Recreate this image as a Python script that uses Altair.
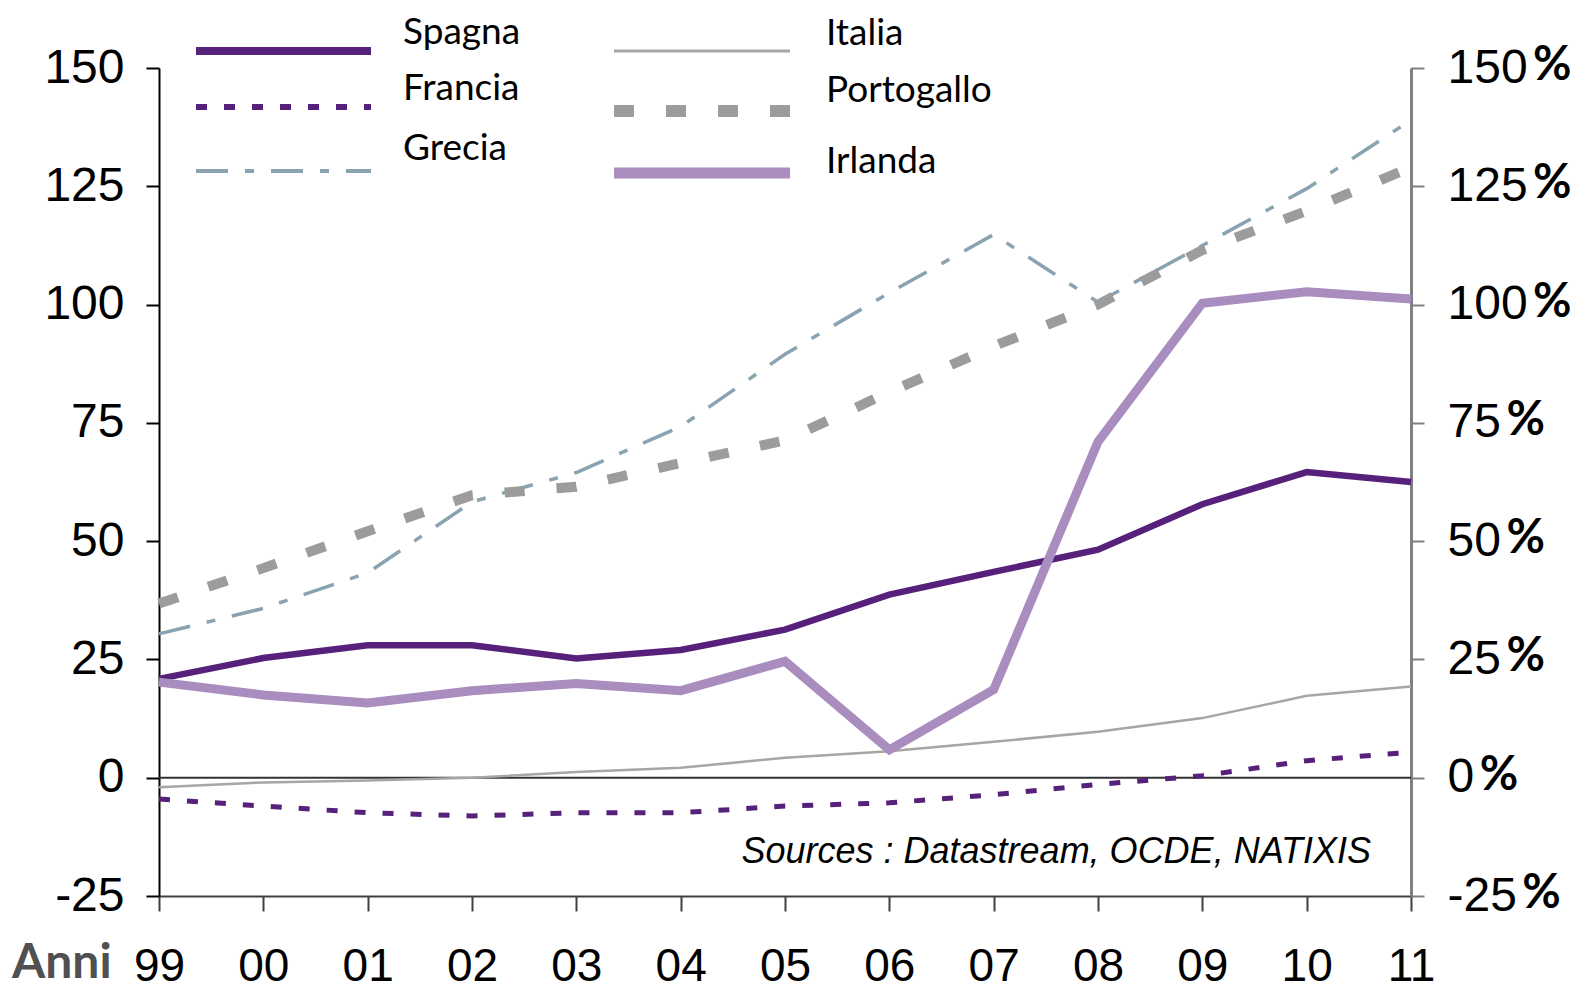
import altair as alt
import pandas as pd

# ---------------- data ----------------
anni = ["99", "00", "01", "02", "03", "04", "05", "06", "07", "08", "09", "10", "11"]
serie = ["Spagna", "Francia", "Grecia", "Italia", "Portogallo", "Irlanda"]

spagna = [20.9, 25.3, 28.0, 28.0, 25.2, 27.0, 31.3, 38.7, 43.5, 48.2, 57.8, 64.6, 62.5]
francia = [-4.5, -6.0, -7.4, -8.1, -7.4, -7.4, -6.0, -5.3, -3.6, -1.4, 0.4, 3.6, 5.4]
grecia = [30.4, 35.8, 43.3, 58.3, 64.5, 74.2, 89.5, 102.5, 114.8, 100.5, 112.5, 124.5, 139.0]
italia = [-2.0, -1.0, -0.6, 0.0, 1.2, 2.1, 4.2, 5.6, 7.6, 9.7, 12.6, 17.3, 19.3]
portogallo = [36.8, 44.3, 52.1, 59.7, 61.5, 66.5, 71.3, 81.5, 91.2, 100.0, 111.5, 119.8, 129.0]
irlanda = [20.2, 17.5, 15.8, 18.4, 19.9, 18.4, 24.6, 5.9, 18.6, 71.0, 100.3, 102.7, 101.2]

valori = {
    "Spagna": spagna,
    "Francia": francia,
    "Grecia": grecia,
    "Italia": italia,
    "Portogallo": portogallo,
    "Irlanda": irlanda,
}
tick_values = [-25, 0, 25, 50, 75, 100, 125, 150]
fonte = ["Sources : Datastream, OCDE, NATIXIS"]
titolo_x = ["Anni"]

rows = []
for s in serie:
    for a, v in zip(anni, valori[s]):
        rows.append({"serie": s, "anno": a, "valore": v})
df = pd.DataFrame(rows)

# ---------------- styles ----------------
W, H = 1252, 828
NUM_FONT = "Liberation Sans, Arial, sans-serif"
TXT_FONT = "Lato, Open Sans, sans-serif"
YFS = 48  # y-axis label font size

stili = {
    "Spagna": dict(color="#57207A", w=6.5, dash=None, lw=8),
    "Francia": dict(color="#57207A", w=5, dash=[11, 17], lw=6),
    "Grecia": dict(color="#8AA3B0", w=3.5, dash=[32, 17, 9, 17], lw=4),
    "Italia": dict(color="#A6A6A6", w=2.5, dash=None, lw=3),
    "Portogallo": dict(color="#9C9C9C", w=10, dash=[20, 32], lw=12),
    "Irlanda": dict(color="#A98DBF", w=9, dash=None, lw=11),
}

# legend layout (pixels relative to the plot origin)
legenda_pos = {
    "Spagna": dict(x1=37, x2=212, y=-17, tx=244, ty=-24),
    "Francia": dict(x1=37, x2=212, y=39, tx=244, ty=32),
    "Grecia": dict(x1=37, x2=212, y=103, tx=244, ty=92),
    "Italia": dict(x1=455, x2=631, y=-17, tx=667, ty=-23),
    "Portogallo": dict(x1=455, x2=631, y=43, tx=667, ty=34),
    "Irlanda": dict(x1=455, x2=631, y=105, tx=667, ty=105),
}

yscale = alt.Scale(domain=[-25, 150], nice=False, zero=False)
xscale = alt.Scale(type="point", padding=0, domain=anni)

x_axis = alt.Axis(
    labelAngle=0,
    labelFont=NUM_FONT,
    labelFontSize=46,
    labelColor="#000000",
    labelPadding=33,
    domainColor="#404040",
    domainWidth=2,
    tickColor="#404040",
    tickWidth=2,
    tickSize=15,
    grid=False,
)
left_axis = alt.Axis(
    orient="left",
    values=tick_values,
    labelExpr="toString(datum.value)",
    labelFont=NUM_FONT,
    labelFontSize=YFS,
    labelColor="#000000",
    labelPadding=22,
    labelFlush=False,
    domainColor="#000000",
    domainWidth=2,
    tickColor="#000000",
    tickWidth=2,
    tickSize=13,
    grid=False,
)
right_axis = alt.Axis(
    orient="right",
    values=tick_values,
    labelExpr="toString(datum.value)",
    labelFont=NUM_FONT,
    labelFontSize=YFS,
    labelColor="#000000",
    labelPadding=23,
    labelFlush=False,
    domainColor="#7F7F7F",
    domainWidth=3,
    tickColor="#7F7F7F",
    tickWidth=2,
    tickSize=13,
    grid=False,
)

layers = []

# zero line
zero = alt.Chart(pd.DataFrame({"y": [0]})).mark_rule(color="#333333", strokeWidth=2).encode(
    y=alt.Y("y:Q", scale=yscale, axis=None)
)
layers.append(zero)

ordine = ["Italia", "Francia", "Grecia", "Portogallo", "Spagna", "Irlanda"]
first = True
for s in ordine:
    st = stili[s]
    mk = dict(color=st["color"], strokeWidth=st["w"], strokeCap="butt", strokeJoin="miter")
    if st["dash"]:
        mk["strokeDash"] = st["dash"]
    line = (
        alt.Chart(df)
        .transform_filter(alt.datum.serie == s)
        .mark_line(**mk)
        .encode(
            x=alt.X("anno:O", scale=xscale, axis=x_axis, title=None),
            y=alt.Y("valore:Q", scale=yscale, axis=left_axis if first else None, title=None),
        )
    )
    first = False
    layers.append(line)

# right axis with "%" signs
digit = YFS * 0.556
hyph = YFS * 0.333
pct = (
    alt.Chart(pd.DataFrame({"v": tick_values}))
    .mark_text(
        text="%",
        font=TXT_FONT,
        fontWeight="bold",
        fontSize=47,
        align="left",
        baseline="middle",
        color="#000000",
        dy=-2,
        dx=alt.expr(
            f"(datum.v < 0 ? (length(toString(datum.v)) - 1) * {digit} + {hyph} : length(toString(datum.v)) * {digit}) + 6"
        ),
    )
    .encode(
        x=alt.value(W + 13 + 23),
        y=alt.Y("v:Q", scale=yscale, axis=right_axis, title=None),
    )
)
layers.append(pct)

# legend
for s in serie:
    st = stili[s]
    p = legenda_pos[s]
    one = pd.DataFrame({"serie": [s]})
    mk = dict(color=st["color"], strokeWidth=st["lw"], strokeCap="butt")
    if st["dash"]:
        mk["strokeDash"] = st["dash"]
    layers.append(
        alt.Chart(one).mark_rule(**mk).encode(
            x=alt.value(p["x1"]), x2=alt.value(p["x2"]), y=alt.value(p["y"])
        )
    )
    layers.append(
        alt.Chart(one)
        .mark_text(font=TXT_FONT, fontSize=37, align="left", baseline="alphabetic", color="#000000")
        .encode(x=alt.value(p["tx"]), y=alt.value(p["ty"]), text="serie:N")
    )

# source note
layers.append(
    alt.Chart(pd.DataFrame({"t": fonte}))
    .mark_text(font=NUM_FONT, fontSize=36, fontStyle="italic", align="right", baseline="middle", color="#000000")
    .encode(x=alt.value(1212), y=alt.value(784), text="t:N")
)

# "Anni"
layers.append(
    alt.Chart(pd.DataFrame({"t": titolo_x}))
    .mark_text(font=TXT_FONT, fontSize=48, fontWeight="bold", align="left", baseline="alphabetic", color="#505050")
    .encode(x=alt.value(-147), y=alt.value(910), text="t:N")
)

chart = (
    alt.layer(*layers)
    .resolve_axis(y="independent")
    .properties(
        width=W,
        height=H,
        padding={"left": 151, "top": 60, "right": 170, "bottom": 100},
        autosize=alt.AutoSizeParams(type="none"),
        background="white",
    )
    .configure_view(stroke=None)
)

chart.save("out.html", embed_options={"renderer": "svg", "actions": False})
